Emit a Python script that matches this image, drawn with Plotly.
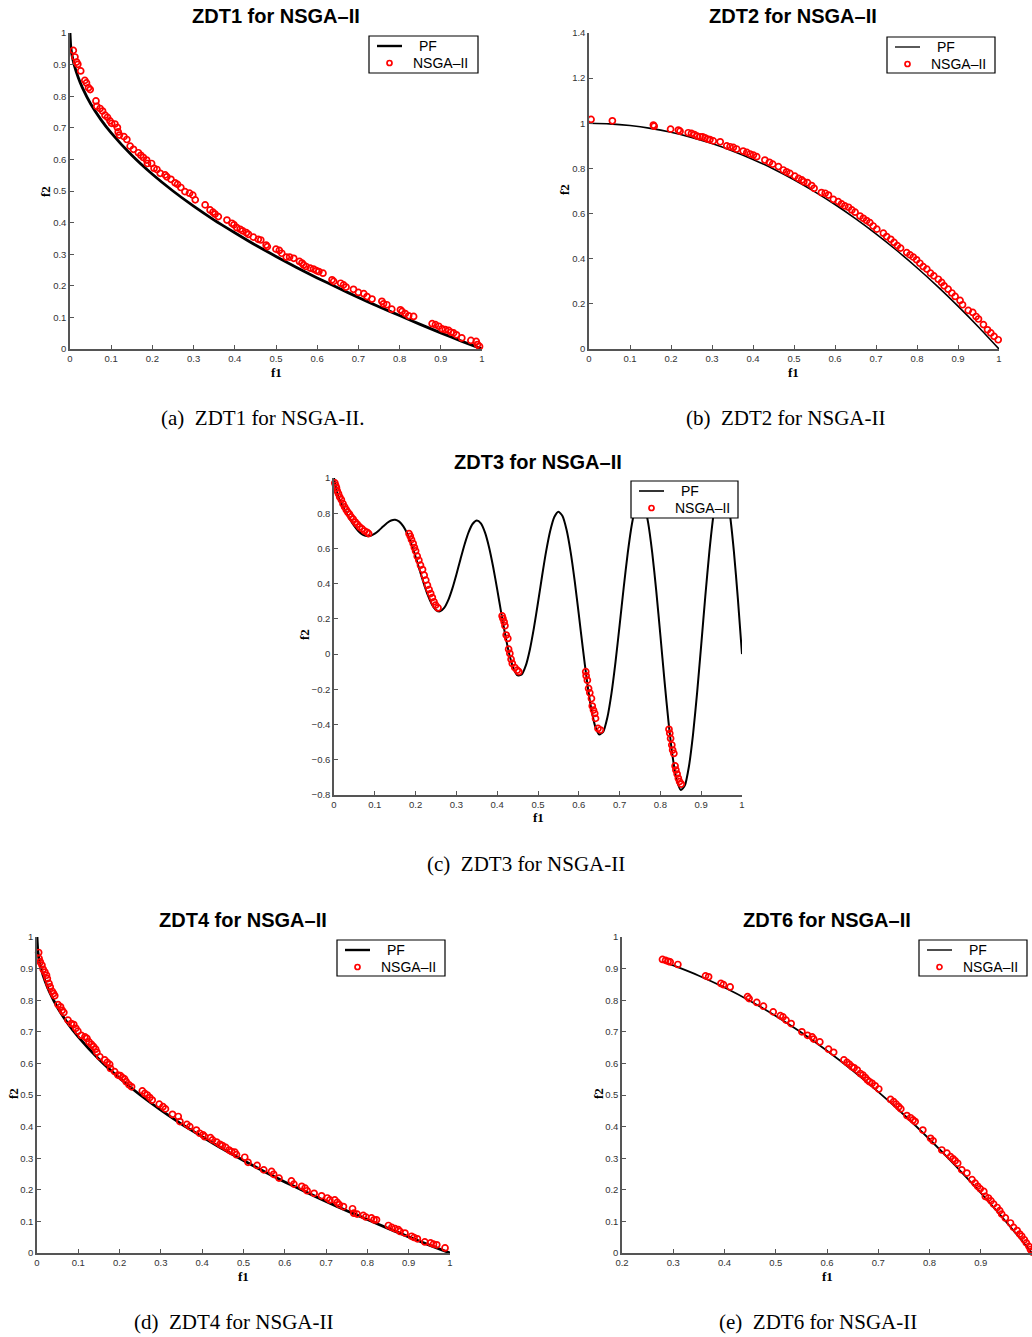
import plotly.graph_objects as go

W, H = 1032, 1337

# ---------------- ZDT1 ----------------
zdt1_pf_f1 = [0, 0.002, 0.005, 0.01, 0.02, 0.03, 0.05, 0.075, 0.1, 0.15, 0.2, 0.25, 0.3, 0.35, 0.4,
              0.45, 0.5, 0.55, 0.6, 0.65, 0.7, 0.75, 0.8, 0.85, 0.9, 0.95, 1.0]
zdt1_pf_f2 = [1, 0.955, 0.929, 0.9, 0.859, 0.827, 0.776, 0.726, 0.684, 0.613, 0.553, 0.5, 0.452, 0.408, 0.368,
              0.329, 0.293, 0.258, 0.225, 0.194, 0.163, 0.134, 0.106, 0.078, 0.051, 0.025, 0]
zdt1_f1 = [0.008, 0.012, 0.016, 0.019, 0.026, 0.036, 0.040, 0.045, 0.049, 0.063, 0.065, 0.073, 0.079, 0.085,
           0.091, 0.097, 0.101, 0.109, 0.115, 0.117, 0.120, 0.131, 0.138, 0.146, 0.154, 0.166, 0.172, 0.178,
           0.186, 0.188, 0.198, 0.204, 0.211, 0.219, 0.231, 0.235, 0.245, 0.255, 0.261, 0.269, 0.279, 0.290,
           0.298, 0.304, 0.328, 0.340, 0.347, 0.352, 0.360, 0.381, 0.393, 0.398, 0.405, 0.413, 0.419, 0.428,
           0.433, 0.445, 0.457, 0.463, 0.476, 0.479, 0.500, 0.508, 0.514, 0.525, 0.533, 0.543, 0.557, 0.563,
           0.567, 0.573, 0.583, 0.591, 0.598, 0.604, 0.614, 0.636, 0.640, 0.657, 0.664, 0.670, 0.688, 0.700,
           0.713, 0.721, 0.733, 0.757, 0.761, 0.769, 0.781, 0.802, 0.806, 0.814, 0.822, 0.834, 0.879, 0.887,
           0.895, 0.903, 0.911, 0.919, 0.925, 0.931, 0.938, 0.951, 0.973, 0.986, 0.989, 0.994]
zdt1_f2 = [0.945, 0.924, 0.908, 0.901, 0.880, 0.850, 0.842, 0.827, 0.821, 0.785, 0.768, 0.761, 0.753, 0.740,
           0.733, 0.722, 0.714, 0.712, 0.701, 0.687, 0.677, 0.672, 0.663, 0.642, 0.632, 0.621, 0.613, 0.606,
           0.598, 0.587, 0.587, 0.572, 0.568, 0.556, 0.551, 0.545, 0.537, 0.526, 0.521, 0.511, 0.498, 0.493,
           0.487, 0.472, 0.456, 0.440, 0.433, 0.427, 0.419, 0.408, 0.398, 0.393, 0.384, 0.379, 0.374, 0.368,
           0.363, 0.354, 0.347, 0.345, 0.329, 0.324, 0.316, 0.312, 0.303, 0.291, 0.291, 0.287, 0.277, 0.272,
           0.266, 0.261, 0.256, 0.253, 0.248, 0.245, 0.240, 0.219, 0.214, 0.208, 0.203, 0.196, 0.189, 0.179,
           0.175, 0.166, 0.158, 0.151, 0.143, 0.140, 0.126, 0.124, 0.119, 0.112, 0.105, 0.103, 0.080, 0.077,
           0.072, 0.064, 0.061, 0.059, 0.053, 0.051, 0.045, 0.035, 0.027, 0.024, 0.014, 0.008]

# ---------------- ZDT2 ----------------
zdt2_pf_f1 = [0, 0.05, 0.1, 0.15, 0.2, 0.25, 0.3, 0.35, 0.4, 0.45, 0.5, 0.55, 0.6, 0.65, 0.7, 0.75, 0.8,
              0.85, 0.9, 0.95, 1.0]
zdt2_pf_f2 = [1, 0.9975, 0.99, 0.9775, 0.96, 0.9375, 0.91, 0.8775, 0.84, 0.7975, 0.75, 0.6975, 0.64, 0.5775,
              0.51, 0.4375, 0.36, 0.2775, 0.19, 0.0975, 0]
zdt2_f1 = [0.005, 0.057, 0.157, 0.159, 0.199, 0.218, 0.222, 0.242, 0.250, 0.257, 0.264, 0.271, 0.277, 0.283,
           0.289, 0.295, 0.303, 0.320, 0.336, 0.344, 0.352, 0.360, 0.376, 0.385, 0.393, 0.401, 0.409, 0.429,
           0.440, 0.448, 0.462, 0.474, 0.482, 0.490, 0.502, 0.511, 0.519, 0.524, 0.533, 0.543, 0.549, 0.567,
           0.576, 0.584, 0.596, 0.608, 0.616, 0.624, 0.633, 0.641, 0.649, 0.661, 0.669, 0.677, 0.685, 0.693,
           0.702, 0.718, 0.726, 0.736, 0.744, 0.752, 0.760, 0.775, 0.783, 0.791, 0.799, 0.807, 0.815, 0.824,
           0.833, 0.841, 0.852, 0.860, 0.866, 0.876, 0.885, 0.893, 0.905, 0.911, 0.925, 0.936, 0.944, 0.950,
           0.962, 0.972, 0.980, 0.988, 0.998]
zdt2_f2 = [1.017, 1.011, 0.992, 0.987, 0.974, 0.970, 0.965, 0.958, 0.955, 0.950, 0.943, 0.940, 0.940, 0.936,
           0.930, 0.928, 0.922, 0.918, 0.900, 0.896, 0.893, 0.886, 0.877, 0.871, 0.864, 0.859, 0.852, 0.837,
           0.827, 0.819, 0.808, 0.793, 0.785, 0.778, 0.766, 0.756, 0.749, 0.741, 0.737, 0.724, 0.712, 0.693,
           0.690, 0.682, 0.663, 0.653, 0.643, 0.634, 0.628, 0.616, 0.606, 0.589, 0.579, 0.569, 0.560, 0.545,
           0.531, 0.513, 0.498, 0.486, 0.472, 0.458, 0.447, 0.427, 0.417, 0.407, 0.395, 0.380, 0.365, 0.354,
           0.336, 0.324, 0.309, 0.295, 0.280, 0.265, 0.248, 0.233, 0.215, 0.196, 0.171, 0.162, 0.144, 0.133,
           0.108, 0.085, 0.071, 0.056, 0.041]

# ---------------- ZDT3 ----------------
zdt3_pf_f1 = [round(i * 0.01, 2) for i in range(101)]  # sample positions
zdt3_pf_f2 = [1, 0.897, 0.847, 0.8025, 0.762, 0.7264, 0.698, 0.6788, 0.6702, 0.6722,
              0.6838, 0.7023, 0.7242, 0.7446, 0.7589, 0.7627, 0.7522, 0.7252, 0.6815, 0.6228,
              0.5528, 0.4768, 0.4016, 0.3343, 0.2819, 0.25, 0.2428, 0.262, 0.3062, 0.3719,
              0.4523, 0.539, 0.6225, 0.6925, 0.7402, 0.7584, 0.7424, 0.691, 0.607, 0.496,
              0.3675, 0.233, 0.1049, -0.0036, -0.0817, -0.1208, -0.1157, -0.0658, 0.025, 0.1486,
              0.2929, 0.4435, 0.5847, 0.7008, 0.7787, 0.8084, 0.7843, 0.7061, 0.5794, 0.4142,
              0.2254, 0.0305, -0.152, -0.3034, -0.4086, -0.4562, -0.4401, -0.3605, -0.2244, -0.0439,
              0.1633, 0.3768, 0.5749, 0.7362, 0.8435, 0.884, 0.851, 0.7454, 0.5754, 0.3553,
              0.1056, -0.1503, -0.3877, -0.5825, -0.7153, -0.772, -0.7453, -0.6365, -0.4555, -0.2184,
              0.0513, 0.3273, 0.5818, 0.788, 0.9244, 0.9753, 0.9332, 0.7998, 0.5863, 0.3109, 0]
zdt3_f1 = [0.002, 0.004, 0.006, 0.008, 0.011, 0.014, 0.018, 0.022, 0.026, 0.030, 0.034, 0.038, 0.042, 0.047,
           0.052, 0.057, 0.063, 0.069, 0.075, 0.081, 0.085,
           0.184, 0.187, 0.190, 0.194, 0.197, 0.200, 0.204, 0.208, 0.212, 0.217, 0.221, 0.225, 0.229, 0.233,
           0.237, 0.241, 0.245, 0.249, 0.255,
           0.412, 0.414, 0.417, 0.419, 0.422, 0.426, 0.428, 0.431, 0.434, 0.437, 0.443, 0.449, 0.453,
           0.617, 0.618, 0.621, 0.624, 0.627, 0.631, 0.633, 0.636, 0.639, 0.641, 0.647, 0.653,
           0.821, 0.823, 0.825, 0.828, 0.830, 0.833, 0.836, 0.838, 0.841, 0.844, 0.847, 0.851]
zdt3_f2 = [0.972, 0.958, 0.945, 0.926, 0.911, 0.892, 0.877, 0.854, 0.836, 0.820, 0.805, 0.794, 0.779, 0.766,
           0.750, 0.737, 0.722, 0.711, 0.699, 0.692, 0.684,
           0.684, 0.669, 0.650, 0.628, 0.605, 0.586, 0.556, 0.533, 0.505, 0.480, 0.448, 0.420, 0.391, 0.367,
           0.344, 0.321, 0.297, 0.278, 0.262,
           0.217, 0.202, 0.183, 0.161, 0.108, 0.089, 0.028, 0.004, -0.029, -0.053, -0.076, -0.091, -0.100,
           -0.100, -0.123, -0.148, -0.195, -0.220, -0.252, -0.295, -0.318, -0.337, -0.365, -0.422, -0.431,
           -0.427, -0.450, -0.479, -0.516, -0.545, -0.564, -0.635, -0.658, -0.681, -0.705, -0.724, -0.738]

# ---------------- ZDT4 ----------------
zdt4_pf_f1 = [0, 0.002, 0.005, 0.01, 0.02, 0.03, 0.05, 0.075, 0.1, 0.15, 0.2, 0.25, 0.3, 0.35, 0.4,
              0.45, 0.5, 0.55, 0.6, 0.65, 0.7, 0.75, 0.8, 0.85, 0.9, 0.95, 1.0]
zdt4_pf_f2 = [1, 0.955, 0.929, 0.9, 0.859, 0.827, 0.776, 0.726, 0.684, 0.613, 0.553, 0.5, 0.452, 0.408, 0.368,
              0.329, 0.293, 0.258, 0.225, 0.194, 0.163, 0.134, 0.106, 0.078, 0.051, 0.025, 0]
zdt4_f1 = [0.004, 0.005, 0.008, 0.012, 0.015, 0.019, 0.023, 0.025, 0.029, 0.032, 0.037, 0.040, 0.043, 0.051,
           0.057, 0.061, 0.065, 0.075, 0.083, 0.089, 0.094, 0.099, 0.107, 0.116, 0.121, 0.126, 0.132, 0.137,
           0.142, 0.145, 0.152, 0.164, 0.170, 0.176, 0.178, 0.188, 0.196, 0.202, 0.207, 0.212, 0.216, 0.223,
           0.229, 0.255, 0.261, 0.267, 0.273, 0.279, 0.296, 0.305, 0.311, 0.328, 0.342, 0.346, 0.363, 0.370,
           0.386, 0.394, 0.402, 0.406, 0.420, 0.425, 0.435, 0.443, 0.449, 0.457, 0.465, 0.471, 0.479, 0.483,
           0.503, 0.511, 0.533, 0.549, 0.568, 0.573, 0.586, 0.616, 0.622, 0.641, 0.649, 0.654, 0.671, 0.689,
           0.703, 0.709, 0.721, 0.727, 0.732, 0.742, 0.764, 0.767, 0.775, 0.790, 0.796, 0.810, 0.816, 0.822,
           0.851, 0.859, 0.867, 0.875, 0.879, 0.891, 0.907, 0.913, 0.921, 0.939, 0.953, 0.960, 0.968, 0.988]
zdt4_f2 = [0.951, 0.932, 0.921, 0.911, 0.898, 0.889, 0.879, 0.868, 0.853, 0.842, 0.828, 0.821, 0.814, 0.786,
           0.779, 0.768, 0.761, 0.737, 0.726, 0.723, 0.711, 0.702, 0.689, 0.684, 0.679, 0.668, 0.660, 0.653,
           0.645, 0.635, 0.621, 0.611, 0.603, 0.597, 0.584, 0.574, 0.563, 0.561, 0.555, 0.551, 0.542, 0.532,
           0.526, 0.513, 0.505, 0.500, 0.492, 0.484, 0.471, 0.463, 0.456, 0.439, 0.432, 0.416, 0.407, 0.400,
           0.389, 0.379, 0.374, 0.368, 0.365, 0.358, 0.351, 0.344, 0.340, 0.334, 0.326, 0.321, 0.319, 0.311,
           0.303, 0.287, 0.277, 0.263, 0.258, 0.249, 0.237, 0.228, 0.218, 0.211, 0.205, 0.197, 0.189, 0.181,
           0.174, 0.168, 0.168, 0.160, 0.153, 0.147, 0.140, 0.126, 0.123, 0.119, 0.114, 0.111, 0.105, 0.105,
           0.087, 0.081, 0.077, 0.074, 0.068, 0.063, 0.053, 0.049, 0.045, 0.035, 0.032, 0.028, 0.026, 0.016]

# ---------------- ZDT6 ----------------
zdt6_pf_f1 = [0.28, 0.3, 0.35, 0.4, 0.45, 0.5, 0.55, 0.6, 0.65, 0.7, 0.75, 0.8, 0.85, 0.9, 0.95, 1.0]
zdt6_pf_f2 = [0.922, 0.91, 0.8775, 0.84, 0.7975, 0.75, 0.6975, 0.64, 0.5775, 0.51, 0.4375, 0.36, 0.2775,
              0.19, 0.0975, 0]
zdt6_f1 = [0.279, 0.285, 0.290, 0.294, 0.309, 0.363, 0.369, 0.393, 0.398, 0.411, 0.445, 0.448, 0.463, 0.476,
           0.495, 0.509, 0.514, 0.520, 0.530, 0.551, 0.562, 0.571, 0.574, 0.586, 0.603, 0.613, 0.633, 0.639,
           0.644, 0.649, 0.653, 0.659, 0.665, 0.670, 0.675, 0.679, 0.683, 0.688, 0.694, 0.701, 0.724, 0.730,
           0.735, 0.740, 0.744, 0.756, 0.763, 0.768, 0.772, 0.787, 0.802, 0.807, 0.824, 0.834, 0.841, 0.846,
           0.850, 0.855, 0.863, 0.873, 0.883, 0.889, 0.894, 0.899, 0.906, 0.909, 0.915, 0.920, 0.925, 0.932,
           0.937, 0.941, 0.948, 0.958, 0.964, 0.971, 0.976, 0.980, 0.985, 0.989, 0.994, 0.997, 1.0]
zdt6_f2 = [0.929, 0.926, 0.923, 0.921, 0.913, 0.877, 0.874, 0.853, 0.849, 0.842, 0.811, 0.805, 0.793, 0.781,
           0.763, 0.751, 0.747, 0.737, 0.726, 0.700, 0.689, 0.684, 0.677, 0.668, 0.645, 0.635, 0.611, 0.603,
           0.597, 0.589, 0.586, 0.579, 0.568, 0.563, 0.555, 0.547, 0.542, 0.537, 0.529, 0.519, 0.486, 0.479,
           0.471, 0.463, 0.456, 0.435, 0.428, 0.421, 0.416, 0.389, 0.363, 0.355, 0.326, 0.316, 0.305, 0.298,
           0.292, 0.284, 0.263, 0.253, 0.232, 0.221, 0.211, 0.203, 0.195, 0.179, 0.174, 0.165, 0.155, 0.144,
           0.134, 0.123, 0.111, 0.095, 0.081, 0.071, 0.060, 0.053, 0.042, 0.032, 0.021, 0.011, 0.003]

# ---------------- tick labels ----------------
ticks_0_1 = [0, 0.1, 0.2, 0.3, 0.4, 0.5, 0.6, 0.7, 0.8, 0.9, 1]
ticks_0_1_text = ["0", "0.1", "0.2", "0.3", "0.4", "0.5", "0.6", "0.7", "0.8", "0.9", "1"]
ticks_02_1 = [0.2, 0.3, 0.4, 0.5, 0.6, 0.7, 0.8, 0.9, 1]
ticks_02_1_text = ["0.2", "0.3", "0.4", "0.5", "0.6", "0.7", "0.8", "0.9", "1"]
ticks_0_14 = [0, 0.2, 0.4, 0.6, 0.8, 1, 1.2, 1.4]
ticks_0_14_text = ["0", "0.2", "0.4", "0.6", "0.8", "1", "1.2", "1.4"]
ticks_m08_1 = [-0.8, -0.6, -0.4, -0.2, 0, 0.2, 0.4, 0.6, 0.8, 1]
ticks_m08_1_text = ["\u22120.8", "\u22120.6", "\u22120.4", "\u22120.2", "0", "0.2", "0.4", "0.6", "0.8", "1"]

titles = ["ZDT1 for NSGA\u2013II", "ZDT2 for NSGA\u2013II", "ZDT3 for NSGA\u2013II",
          "ZDT4 for NSGA\u2013II", "ZDT6 for NSGA\u2013II"]
captions = ["(a)  ZDT1 for NSGA-II.", "(b)  ZDT2 for NSGA-II", "(c)  ZDT3 for NSGA-II",
            "(d)  ZDT4 for NSGA-II", "(e)  ZDT6 for NSGA-II"]
legend_labels = ["PF", "NSGA\u2013II"]

# ---------------- layout geometry (pixels) ----------------
panels = [
    dict(pf=(zdt1_pf_f1, zdt1_pf_f2), pts=(zdt1_f1, zdt1_f2), px=(70, 482), py=(33, 349),
         xr=[0, 1], yr=[0, 1], xt=(ticks_0_1, ticks_0_1_text), yt=(ticks_0_1, ticks_0_1_text),
         lw=2.8, leg=(369, 36, 109, 37), title=(276, 16), cap=(263, 418), xl=(276, 372), yl=(45, 192)),
    dict(pf=(zdt2_pf_f1, zdt2_pf_f2), pts=(zdt2_f1, zdt2_f2), px=(589, 999), py=(33, 349),
         xr=[0, 1], yr=[0, 1.4], xt=(ticks_0_1, ticks_0_1_text), yt=(ticks_0_14, ticks_0_14_text),
         lw=1.6, leg=(887, 37, 108, 36), title=(793, 16), cap=(785, 418), xl=(793, 372), yl=(565, 190)),
    dict(pf=(zdt3_pf_f1, zdt3_pf_f2), pts=(zdt3_f1, zdt3_f2), px=(334, 742), py=(478, 795),
         xr=[0, 1], yr=[-0.8, 1], xt=(ticks_0_1, ticks_0_1_text), yt=(ticks_m08_1, ticks_m08_1_text),
         lw=2.0, leg=(631, 481, 107, 37), title=(538, 462), cap=(526, 864), xl=(538, 818), yl=(305, 635)),
    dict(pf=(zdt4_pf_f1, zdt4_pf_f2), pts=(zdt4_f1, zdt4_f2), px=(37, 450), py=(937, 1253),
         xr=[0, 1], yr=[0, 1], xt=(ticks_0_1, ticks_0_1_text), yt=(ticks_0_1, ticks_0_1_text),
         lw=2.8, leg=(337, 940, 108, 36), title=(243, 920), cap=(233, 1322), xl=(243, 1276), yl=(13, 1094)),
    dict(pf=(zdt6_pf_f1, zdt6_pf_f2), pts=(zdt6_f1, zdt6_f2), px=(622, 1032), py=(937, 1253),
         xr=[0.2, 1], yr=[0, 1], xt=(ticks_02_1, ticks_02_1_text), yt=(ticks_0_1, ticks_0_1_text),
         lw=1.8, leg=(919, 940, 108, 36), title=(827, 920), cap=(818, 1322), xl=(827, 1276), yl=(598, 1094)),
]


def fx(p):
    return p / W


def fy(p):
    return 1 - p / H


fig = go.Figure()
layout = dict(width=W, height=H, margin=dict(l=0, r=0, t=0, b=0, autoexpand=False),
              paper_bgcolor="white", plot_bgcolor="white", showlegend=False)
annotations = []
shapes = []
AXCOL = "#555555"
TICKFONT = dict(family="Liberation Sans, Arial", size=9.5, color="#333333")
LEGFONT = dict(family="Liberation Sans, Arial", size=14, color="black")
LABFONT = dict(family="Liberation Serif, Times New Roman", size=13, color="black", weight="bold")

for i, p in enumerate(panels):
    n = i + 1
    sfx = "" if n == 1 else str(n)
    fig.add_trace(go.Scatter(x=p["pf"][0], y=p["pf"][1], mode="lines", name=legend_labels[0],
                             line=dict(color="black", width=p["lw"], shape="spline", smoothing=0.6),
                             xaxis="x" + sfx, yaxis="y" + sfx))
    fig.add_trace(go.Scatter(x=p["pts"][0], y=p["pts"][1], mode="markers", name=legend_labels[1],
                             marker=dict(symbol="circle-open", size=6, color="#ff0000",
                                         line=dict(width=1.7, color="#ff0000")),
                             cliponaxis=False,
                             xaxis="x" + sfx, yaxis="y" + sfx))
    common = dict(showgrid=False, zeroline=False, showline=True, linecolor=AXCOL, linewidth=1.5,
                  ticks="inside", ticklen=4, tickcolor=AXCOL, tickwidth=1, tickfont=TICKFONT,
                  automargin=False)
    layout["xaxis" + sfx] = dict(domain=[fx(p["px"][0]), fx(p["px"][1])], range=p["xr"],
                                 anchor="y" + sfx, tickvals=p["xt"][0], ticktext=p["xt"][1], **common)
    layout["yaxis" + sfx] = dict(domain=[fy(p["py"][1]), fy(p["py"][0])], range=p["yr"],
                                 anchor="x" + sfx, tickvals=p["yt"][0], ticktext=p["yt"][1], **common)

    # legend box (drawn above the data, like the reference)
    lx, ly, lw_, lh = p["leg"]
    shapes.append(dict(type="rect", xref="paper", yref="paper", layer="above",
                       x0=fx(lx), x1=fx(lx + lw_), y0=fy(ly + lh), y1=fy(ly),
                       fillcolor="white", line=dict(color="black", width=1.2)))
    shapes.append(dict(type="line", xref="paper", yref="paper", layer="above",
                       x0=fx(lx + 8), x1=fx(lx + 33), y0=fy(ly + 10), y1=fy(ly + 10),
                       line=dict(color="black", width=max(1.3, p["lw"] - 0.4))))
    shapes.append(dict(type="circle", xref="paper", yref="paper", layer="above",
                       x0=fx(lx + 18), x1=fx(lx + 23), y0=fy(ly + 29.5), y1=fy(ly + 24.5),
                       line=dict(color="#ff0000", width=1.7)))
    annotations.append(dict(text=legend_labels[0], x=fx(lx + 48), y=fy(ly + 10), xref="paper", yref="paper",
                            xanchor="left", yanchor="middle", showarrow=False, font=LEGFONT))
    annotations.append(dict(text=legend_labels[1], x=fx(lx + 42), y=fy(ly + 27), xref="paper", yref="paper",
                            xanchor="left", yanchor="middle", showarrow=False, font=LEGFONT))

    annotations.append(dict(text=titles[i], x=fx(p["title"][0]), y=fy(p["title"][1]),
                            xref="paper", yref="paper", xanchor="center", yanchor="middle",
                            showarrow=False,
                            font=dict(family="Liberation Sans, Arial", size=20, color="black",
                                      weight="bold")))
    annotations.append(dict(text=captions[i], x=fx(p["cap"][0]), y=fy(p["cap"][1]),
                            xref="paper", yref="paper", xanchor="center", yanchor="middle",
                            showarrow=False,
                            font=dict(family="Liberation Serif, Times New Roman", size=21,
                                      color="black")))
    annotations.append(dict(text="f1", x=fx(p["xl"][0]), y=fy(p["xl"][1]),
                            xref="paper", yref="paper", xanchor="center", yanchor="middle",
                            showarrow=False, font=LABFONT))
    annotations.append(dict(text="f2", x=fx(p["yl"][0]), y=fy(p["yl"][1]),
                            xref="paper", yref="paper", xanchor="center", yanchor="middle",
                            showarrow=False, textangle=-90, font=LABFONT))

layout["annotations"] = annotations
layout["shapes"] = shapes
fig.update_layout(**layout)
fig.write_html("out.html")
